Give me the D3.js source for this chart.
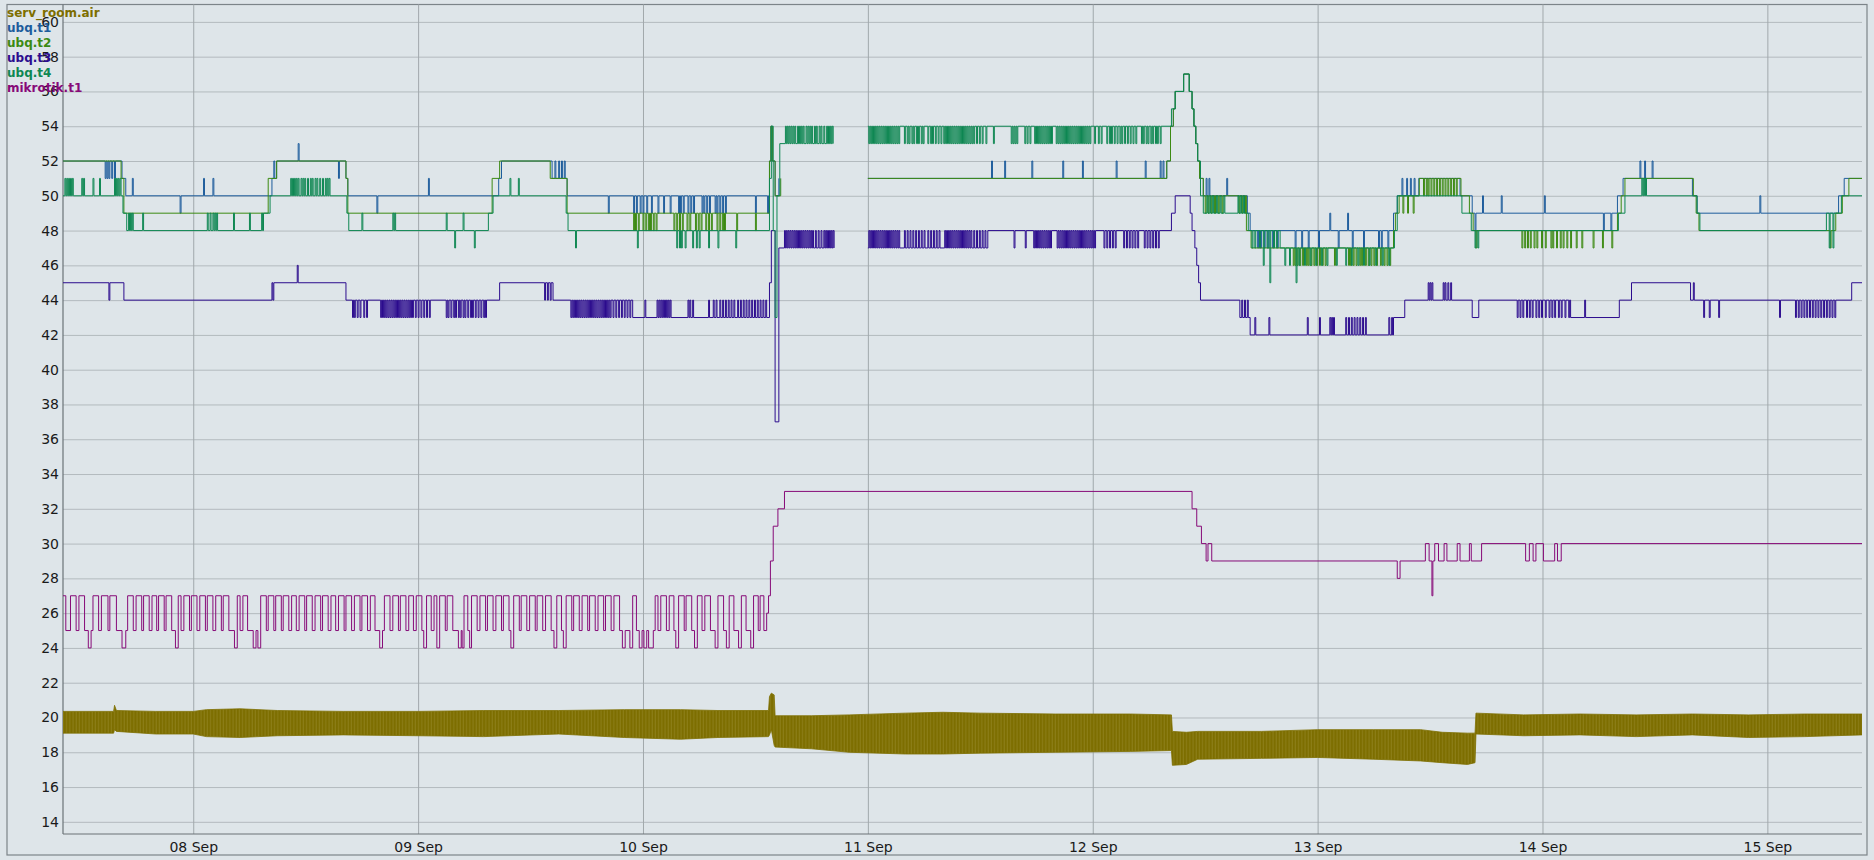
<!DOCTYPE html>
<html>
<head>
<meta charset="utf-8">
<script src="https://cdn.jsdelivr.net/npm/d3@7"></script>
<style>
  html, body { margin: 0; padding: 0; background: #dee5e9; }
  svg { display: block; }
</style>
</head>
<body>
<svg id="chart"></svg>
<script>
// all times are hours counted from 07 Sep 00:00
const START = new Date(2015, 8, 7);
const X_RANGE = [10.1, 202.1];
const Y_RANGE = [13.3, 61];

const yTicks = [14, 16, 18, 20, 22, 24, 26, 28, 30, 32, 34, 36, 38, 40, 42, 44, 46, 48, 50, 52, 54, 56, 58, 60];
const dayTicks = [24, 48, 72, 96, 120, 144, 168, 192];

const seriesNames = ["serv_room.air", "ubq.t1", "ubq.t2", "ubq.t3", "ubq.t4", "mikrotik.t1"];
const seriesColors = ["#7d6e00", "#1d5c9c", "#3c8a12", "#2c0c8e", "#0e8752", "#870a78"];

// serv_room.air oscillates fast: kept as its low / high envelope [h, low, high]
const servRoomAir = [
  [10.1, 19.1, 20.35], [15.5, 19.1, 20.35], [15.6, 19.3, 20.7], [15.8, 19.2, 20.4],
  [20, 19.05, 20.35], [24, 19.05, 20.35], [25.4, 18.9, 20.45], [29, 18.85, 20.5],
  [33, 18.95, 20.4], [40, 19.0, 20.35], [48, 18.95, 20.35], [55, 18.9, 20.4],
  [63, 19.05, 20.4], [70, 18.85, 20.45], [76, 18.75, 20.45], [80, 18.85, 20.4],
  [85.4, 18.9, 20.4], [85.5, 19.0, 21.2], [85.7, 19.3, 21.4], [86.0, 18.4, 21.3],
  [86.1, 18.3, 20.1], [90, 18.2, 20.1], [94, 18.0, 20.15], [100, 17.9, 20.25],
  [104, 17.9, 20.3], [108, 17.95, 20.25], [116, 18.0, 20.2], [124, 18.05, 20.2],
  [128.4, 18.1, 20.15], [128.5, 17.25, 19.2], [130, 17.3, 19.15], [131.2, 17.6, 19.2],
  [138, 17.65, 19.2], [144, 17.7, 19.3], [150, 17.6, 19.3], [155, 17.5, 19.3],
  [157.3, 17.4, 19.15], [160, 17.3, 19.1], [160.8, 17.4, 19.1], [160.9, 19.05, 20.25],
  [166, 18.95, 20.15], [172, 19.0, 20.2], [178, 18.9, 20.15], [184, 19.0, 20.2],
  [190, 18.85, 20.15], [196, 18.9, 20.2], [202.1, 19.0, 20.2]
];

// level changes [h, value]; null = no data
const ubqT1Steps = [
  [10.1, 52], [16.4, 51], [16.8, 50], [32.4, 51], [32.9, 52], [40.3, 51], [40.5, 50],
  [56.6, 51], [56.9, 52], [62.3, 51], [63.9, 50],
  [85.5, 52], [85.65, 54], [85.8, 52], [86.1, 50], [86.5, 51], [92.5, null], [96.0, 51],
  [127.9, 52], [128.3, 54], [128.6, 55], [128.8, 56], [129.7, 57], [130.3, 56], [130.6, 55],
  [130.8, 54], [131.0, 53], [131.2, 52], [131.4, 51], [131.8, 50],
  [136.5, 49], [136.8, 48], [152.1, 49], [152.5, 50], [154.8, 51], [159.2, 50], [160.5, 49],
  [176.0, 50], [176.6, 51], [184.0, 50], [184.5, 49], [199.6, 50], [200.2, 51]
];
// single-sample excursions [h, value]
const ubqT1Spikes = [
  [14.6, 51], [14.8, 51], [15.0, 51], [15.3, 51], [15.6, 51], [17.5, 51], [22.6, 49],
  [25.1, 51], [26.1, 51], [32.6, 52], [35.2, 53], [39.5, 51], [43.6, 49], [49.1, 51],
  [62.6, 52], [63.0, 52], [63.3, 52], [63.6, 52], [68.3, 49],
  [71.0, 49], [71.3, 49], [71.7, 49], [72.0, 49], [72.4, 49], [72.9, 49], [73.6, 49],
  [74.2, 49], [74.9, 49], [75.8, 49], [76.0, 49], [76.3, 49], [76.8, 49], [77.1, 49],
  [77.4, 49], [78.3, 49], [78.5, 49], [78.8, 49], [79.1, 49], [79.7, 49], [79.9, 49],
  [80.2, 49], [80.5, 49], [80.8, 49], [84.0, 49], [85.3, 49],
  [109.2, 52], [110.6, 52], [113.5, 52], [116.8, 52], [118.9, 52], [122.5, 52], [125.6, 52],
  [127.2, 52], [127.5, 52], [132.1, 51], [132.4, 51], [134.3, 51],
  [137.6, 47], [137.9, 47], [138.3, 47], [138.7, 47], [139.2, 47], [139.7, 47],
  [141.6, 47], [142.3, 47], [143.0, 47], [144.1, 47], [145.3, 49], [146.2, 47], [147.2, 49],
  [147.7, 47], [148.9, 47], [150.5, 47], [150.8, 47], [151.5, 47],
  [153.0, 51], [153.5, 51], [153.9, 51], [154.3, 51],
  [160.8, 48], [161.6, 50], [163.6, 50], [168.2, 50], [174.5, 48], [175.3, 48],
  [178.4, 52], [178.9, 52], [179.7, 52], [191.2, 50]
];

const ubqT2Steps = [
  [10.1, 52], [16.3, 51], [16.6, 49], [32.0, 51], [32.9, 52], [40.3, 51], [40.5, 49],
  [55.9, 51], [56.7, 52], [62.1, 51], [63.9, 49],
  [85.5, 52], [85.65, 54], [85.8, 52], [86.1, 50], [86.7, 51], [92.5, null], [96.0, 51],
  [127.9, 52], [128.3, 54], [128.6, 55], [128.8, 56], [129.7, 57], [130.3, 56], [130.6, 55],
  [130.8, 54], [131.0, 53], [131.2, 52], [131.4, 51], [131.8, 50],
  [136.4, 48], [136.9, 47], [152.1, 48], [152.3, 49], [152.7, 50], [154.85, 51],
  [159.3, 50], [160.2, 49], [160.6, 48], [176.0, 49], [176.4, 50], [176.8, 51],
  [184.1, 50], [184.4, 49], [184.7, 48], [199.3, 49], [200.0, 50], [200.7, 51]
];
const ubqT2Spikes = [
  [71.0, 48], [71.2, 48], [71.5, 48], [72.0, 48], [72.3, 48], [72.6, 48], [72.8, 48],
  [73.1, 48], [73.4, 48], [75.3, 48], [75.6, 48], [75.9, 48], [76.2, 48], [76.7, 48],
  [77.0, 48], [77.6, 48], [77.9, 48], [78.2, 48], [78.7, 48], [79.0, 48], [79.3, 48],
  [79.9, 48], [80.2, 48], [80.5, 48], [80.7, 48], [82.0, 48], [84.0, 48],
  [132.0, 49], [132.3, 49], [132.6, 49], [133.0, 49], [133.4, 49], [133.8, 49],
  [135.6, 49], [135.9, 49], [136.2, 49],
  [141.4, 46], [141.6, 46], [141.8, 46], [142.1, 46], [142.4, 46], [142.8, 46], [143.0, 46],
  [143.3, 46], [143.6, 46], [143.9, 46], [144.2, 46], [144.5, 46], [144.8, 46], [145.8, 46],
  [147.3, 46], [147.5, 46], [147.8, 46], [148.1, 46], [148.5, 46], [148.7, 46], [149.1, 46],
  [149.4, 46], [149.7, 46], [150.0, 46], [150.3, 46], [150.7, 46], [151.1, 46], [151.4, 46],
  [151.7, 46], [153.1, 49], [153.6, 49], [154.2, 49],
  [155.3, 50], [155.6, 50], [155.8, 50], [156.1, 50], [156.4, 50], [156.7, 50], [157.0, 50],
  [157.3, 50], [157.6, 50], [157.9, 50], [158.2, 50], [158.5, 50], [158.8, 50],
  [160.9, 47], [165.8, 47], [166.1, 47], [166.4, 47], [166.7, 47], [167.1, 47], [167.4, 47],
  [167.9, 47], [168.3, 47], [168.9, 47], [169.1, 47], [169.5, 47], [169.9, 47], [170.2, 47],
  [170.6, 47], [171.0, 47], [171.6, 47], [172.2, 47], [173.4, 47], [174.4, 47], [175.4, 47],
  [198.7, 47]
];

const ubqT3Steps = [
  [10.1, 45], [16.6, 44], [32.4, 45], [40.3, 44], [56.7, 45], [62.4, 44], [70.9, 43],
  [85.5, 45], [85.7, 48], [86.1, 37], [86.5, 47], [92.5, null], [96.0, 47], [108.8, 48],
  [128.4, 49], [128.8, 50], [130.4, 49], [130.6, 48], [130.9, 47], [131.1, 46], [131.3, 45],
  [131.5, 44], [135.7, 43], [136.8, 42], [152.1, 43], [153.3, 44], [160.5, 43], [161.2, 44],
  [171.0, 43], [176.2, 44], [177.5, 45], [183.8, 44], [201.0, 45]
];
const ubqT3Spikes = [
  [15.0, 44], [32.5, 44], [35.1, 46],
  [41.0, 43], [41.2, 43], [41.5, 43], [41.8, 43], [42.2, 43], [42.5, 43],
  [44.0, 43], [44.2, 43], [44.4, 43], [44.6, 43], [44.8, 43], [45.0, 43], [45.2, 43],
  [45.4, 43], [45.6, 43], [45.8, 43], [46.0, 43], [46.2, 43], [46.4, 43], [46.6, 43],
  [46.8, 43], [47.0, 43], [47.2, 43], [47.4, 43], [47.7, 43], [48.0, 43], [48.3, 43],
  [48.6, 43], [48.9, 43], [49.2, 43],
  [51.0, 43], [51.2, 43], [51.5, 43], [51.8, 43], [52.0, 43], [52.3, 43], [52.5, 43],
  [52.8, 43], [53.0, 43], [53.3, 43], [53.6, 43], [53.8, 43], [54.1, 43], [54.4, 43],
  [54.7, 43], [55.0, 43], [55.2, 43],
  [61.5, 44], [61.8, 44], [62.1, 44],
  [64.3, 43], [64.5, 43], [64.7, 43], [64.9, 43], [65.1, 43], [65.3, 43], [65.5, 43],
  [65.7, 43], [65.9, 43], [66.1, 43], [66.3, 43], [66.5, 43], [66.7, 43], [66.9, 43],
  [67.1, 43], [67.3, 43], [67.5, 43], [67.7, 43], [67.9, 43], [68.1, 43], [68.3, 43],
  [68.5, 43], [68.8, 43], [69.1, 43], [69.4, 43], [69.7, 43], [70.0, 43], [70.3, 43],
  [70.6, 43],
  [72.2, 44], [73.5, 44], [73.7, 44], [73.9, 44], [74.1, 44], [74.3, 44], [74.5, 44],
  [74.7, 44], [74.9, 44], [76.8, 44], [77.0, 44], [77.3, 44], [79.0, 44], [79.5, 44],
  [79.8, 44], [80.2, 44], [80.5, 44], [80.8, 44], [81.1, 44], [81.4, 44], [81.7, 44],
  [82.1, 44], [82.4, 44], [82.7, 44], [83.0, 44], [83.3, 44], [83.6, 44], [83.9, 44],
  [84.2, 44], [84.5, 44], [84.8, 44], [85.1, 44],
  [87.1, 48], [87.3, 48], [87.5, 48], [87.7, 48], [87.9, 48], [88.1, 48], [88.3, 48],
  [88.5, 48], [88.7, 48], [88.9, 48], [89.1, 48], [89.3, 48], [89.5, 48], [89.7, 48],
  [89.9, 48], [90.1, 48], [90.4, 48], [90.7, 48], [91.0, 48], [91.3, 48], [91.5, 48],
  [91.7, 48], [91.9, 48], [92.1, 48], [92.3, 48],
  [96.1, 48], [96.3, 48], [96.5, 48], [96.7, 48], [96.9, 48], [97.1, 48], [97.3, 48],
  [97.5, 48], [97.7, 48], [97.9, 48], [98.1, 48], [98.3, 48], [98.5, 48], [98.7, 48],
  [98.9, 48], [99.1, 48], [99.3, 48], [99.9, 48], [100.2, 48], [100.5, 48], [100.8, 48],
  [101.1, 48], [101.4, 48], [101.7, 48], [102.0, 48], [102.4, 48], [102.7, 48], [103.0, 48],
  [103.3, 48], [103.6, 48], [104.2, 48], [104.4, 48], [104.6, 48], [104.8, 48], [105.0, 48],
  [105.2, 48], [105.4, 48], [105.6, 48], [105.8, 48], [106.0, 48], [106.2, 48], [106.4, 48],
  [106.6, 48], [106.8, 48], [107.0, 48], [107.3, 48], [107.6, 48], [107.9, 48], [108.2, 48],
  [108.5, 48],
  [111.6, 47], [112.8, 47], [113.7, 47], [113.9, 47], [114.1, 47], [114.3, 47], [114.5, 47],
  [114.7, 47], [114.9, 47], [115.1, 47], [115.3, 47], [115.5, 47], [116.2, 47], [116.4, 47],
  [116.6, 47], [116.8, 47], [117.0, 47], [117.2, 47], [117.4, 47], [117.6, 47], [117.8, 47],
  [118.0, 47], [118.2, 47], [118.4, 47], [118.6, 47], [118.8, 47], [119.0, 47], [119.2, 47],
  [119.4, 47], [119.6, 47], [119.8, 47], [120.0, 47], [120.2, 47], [121.2, 47], [121.5, 47],
  [121.8, 47], [122.1, 47], [122.4, 47], [123.3, 47], [123.6, 47], [123.9, 47], [124.2, 47],
  [124.5, 47], [124.8, 47], [125.5, 47], [125.8, 47], [126.1, 47], [126.4, 47], [126.7, 47],
  [127.0, 47],
  [135.9, 44], [136.2, 44], [136.5, 44],
  [137.3, 43], [138.8, 43], [142.9, 43], [144.2, 43], [145.3, 43], [145.5, 43], [145.7, 43],
  [147.0, 43], [147.3, 43], [147.6, 43], [147.9, 43], [148.2, 43], [148.5, 43], [148.8, 43],
  [149.1, 43], [151.6, 43], [151.9, 43],
  [155.8, 45], [156.0, 45], [156.2, 45], [157.4, 45], [157.6, 45], [157.9, 45], [158.2, 45],
  [165.3, 43], [165.6, 43], [165.9, 43], [166.3, 43], [166.6, 43], [166.9, 43], [167.3, 43],
  [167.6, 43], [167.9, 43], [168.3, 43], [168.7, 43], [169.0, 43], [169.3, 43], [169.7, 43],
  [170.0, 43], [170.4, 43], [170.8, 43], [172.5, 44],
  [184.1, 45], [185.2, 43], [185.8, 43], [186.8, 43], [193.3, 43],
  [195.0, 43], [195.3, 43], [195.6, 43], [195.9, 43], [196.2, 43], [196.5, 43], [196.8, 43],
  [197.1, 43], [197.4, 43], [197.7, 43], [198.0, 43], [198.3, 43], [198.6, 43], [198.9, 43],
  [199.2, 43]
];

const ubqT4Steps = [
  [10.1, 50], [16.5, 49], [16.9, 48], [31.5, 49], [32.2, 50], [40.4, 49], [40.6, 48],
  [55.5, 49], [56.0, 50], [63.8, 49], [64.0, 48],
  [85.5, 51], [85.7, 54], [85.9, 48], [86.1, 43], [86.3, 50], [86.6, 53], [92.5, null], [96.0, 54],
  [128.4, 55], [128.8, 56], [129.7, 57], [130.3, 56], [130.6, 55], [130.8, 54], [131.0, 53],
  [131.2, 52], [131.5, 50], [131.8, 49], [136.6, 48], [140.0, 47], [152.2, 48], [152.5, 50],
  [159.4, 49], [160.4, 48], [176.1, 49], [176.8, 50], [184.5, 49], [184.8, 48],
  [198.3, 49], [199.9, 50]
];
const ubqT4Spikes = [
  [10.3, 51], [10.5, 51], [10.7, 51], [10.9, 51], [11.1, 51], [12.1, 51], [12.3, 51],
  [13.3, 51], [14.0, 51], [15.6, 51], [15.8, 51], [16.0, 51], [16.2, 51],
  [17.1, 49], [17.3, 49], [17.5, 49], [18.6, 49], [25.5, 49], [25.8, 49], [26.1, 49],
  [26.3, 49], [26.5, 49], [28.3, 49], [30.0, 49], [31.3, 49],
  [34.4, 51], [34.6, 51], [34.8, 51], [35.0, 51], [35.2, 51], [35.5, 51], [35.7, 51],
  [35.9, 51], [36.2, 51], [36.5, 51], [36.7, 51], [37.0, 51], [37.2, 51], [37.5, 51],
  [37.8, 51], [38.1, 51], [38.3, 51], [38.5, 51],
  [42.0, 49], [45.3, 49], [45.5, 49], [51.0, 49], [51.9, 47], [52.8, 49], [54.0, 47],
  [57.8, 51], [58.7, 51],
  [64.8, 47], [71.4, 47], [75.6, 47], [75.9, 47], [76.1, 47], [76.5, 47], [77.3, 47],
  [77.7, 47], [78.0, 47], [79.0, 47], [80.0, 47], [81.9, 47],
  [87.2, 54], [87.4, 54], [87.6, 54], [87.8, 54], [88.0, 54], [88.2, 54], [88.5, 54],
  [88.7, 54], [88.9, 54], [89.1, 54], [89.4, 54], [89.6, 54], [89.8, 54], [90.0, 54],
  [90.3, 54], [90.5, 54], [90.8, 54], [91.0, 54], [91.3, 54], [91.6, 54], [91.8, 54],
  [92.0, 54], [92.2, 54],
  [96.1, 53], [96.3, 53], [96.5, 53], [96.7, 53], [96.9, 53], [97.1, 53], [97.3, 53],
  [97.5, 53], [97.7, 53], [97.9, 53], [98.1, 53], [98.3, 53], [98.5, 53], [98.7, 53],
  [98.9, 53], [99.1, 53], [99.3, 53], [99.9, 53], [100.2, 53], [100.4, 53], [100.7, 53],
  [100.9, 53], [101.2, 53], [101.4, 53], [101.7, 53], [101.9, 53], [102.4, 53], [102.7, 53],
  [102.9, 53], [103.2, 53], [103.5, 53], [103.8, 53], [104.1, 53], [104.3, 53], [104.5, 53],
  [104.7, 53], [104.9, 53], [105.1, 53], [105.3, 53], [105.5, 53], [105.7, 53], [105.9, 53],
  [106.1, 53], [106.3, 53], [106.5, 53], [106.7, 53], [106.9, 53], [107.1, 53], [107.3, 53],
  [107.6, 53], [107.9, 53], [108.2, 53], [108.6, 53], [109.4, 53],
  [111.3, 53], [111.5, 53], [111.7, 53], [111.9, 53], [112.75, 53], [113.0, 53], [113.3, 53],
  [113.8, 53], [114.0, 53], [114.2, 53], [114.4, 53], [114.6, 53], [114.8, 53], [115.0, 53],
  [115.2, 53], [115.4, 53], [115.6, 53], [116.1, 53], [116.3, 53], [116.5, 53], [116.7, 53],
  [116.9, 53], [117.1, 53], [117.3, 53], [117.5, 53], [117.7, 53], [117.9, 53], [118.1, 53],
  [118.3, 53], [118.5, 53], [118.7, 53], [118.9, 53], [119.1, 53], [119.3, 53], [119.5, 53],
  [119.7, 53], [120.2, 53], [120.6, 53], [120.9, 53], [121.5, 53], [121.8, 53], [122.0, 53],
  [122.3, 53], [122.6, 53], [122.9, 53], [123.1, 53], [123.4, 53], [123.7, 53], [124.0, 53],
  [124.3, 53], [124.6, 53], [125.2, 53], [125.4, 53], [125.7, 53], [125.9, 53], [126.2, 53],
  [126.4, 53], [126.7, 53], [126.9, 53], [127.2, 53],
  [132.2, 50], [132.5, 50], [132.8, 50], [133.2, 50], [133.6, 50], [134.0, 50], [135.5, 50],
  [135.8, 50], [136.1, 50],
  [137.0, 47], [137.3, 47], [137.8, 47], [138.2, 46], [138.6, 47], [138.9, 45], [139.3, 47],
  [139.6, 47],
  [140.5, 46], [141.0, 46], [141.7, 45], [142.0, 46], [142.6, 46], [143.2, 46], [143.8, 46],
  [144.4, 46], [145.0, 46], [146.0, 46], [147.0, 46], [147.6, 46], [148.3, 46], [148.9, 46],
  [149.5, 46], [150.2, 46], [150.9, 46], [151.6, 46],
  [160.8, 47], [161.1, 47], [178.6, 51], [178.8, 51], [179.0, 51], [198.6, 47], [199.0, 47]
];

const mikrotikT1Steps = [
  [10.1, 27], [10.4, 25], [10.9, 27], [11.5, 25], [11.8, 27], [12.4, 25], [12.8, 24],
  [13.1, 25], [13.3, 27], [13.9, 25], [14.2, 27], [14.9, 25], [15.1, 27], [15.8, 25],
  [16.4, 24], [16.8, 25], [17.0, 27], [17.6, 25], [17.9, 27], [18.5, 25], [18.7, 27],
  [19.3, 25], [19.6, 27], [20.1, 25], [20.3, 27], [20.9, 25], [21.1, 27], [21.7, 25],
  [22.1, 24], [22.4, 27], [22.7, 25], [23.0, 27], [23.6, 25], [23.8, 27], [24.4, 25],
  [24.7, 27], [25.3, 25], [25.5, 27], [26.1, 25], [26.4, 27], [27.0, 25], [27.2, 27],
  [27.8, 25], [28.4, 24], [28.7, 27], [29.0, 25], [29.3, 27], [29.8, 25], [30.4, 24],
  [30.7, 25], [30.9, 24], [31.2, 27], [31.8, 25], [32.0, 27], [32.6, 25], [32.8, 27],
  [33.4, 25], [33.6, 27], [34.2, 25], [34.5, 27], [35.0, 25], [35.3, 27], [35.9, 25],
  [36.1, 27], [36.7, 25], [37.0, 27], [37.6, 25], [37.8, 27], [38.4, 25], [38.7, 27],
  [39.2, 25], [39.5, 27], [40.1, 25], [40.3, 27], [40.9, 25], [41.2, 27], [41.8, 25],
  [42.0, 27], [42.6, 25], [42.9, 27], [43.4, 25], [43.9, 24], [44.2, 25], [44.4, 27],
  [45.0, 25], [45.3, 27], [45.9, 25], [46.1, 27], [46.7, 25], [47.0, 27], [47.5, 25],
  [47.8, 27], [48.4, 25], [48.6, 24], [48.9, 27], [49.4, 25], [49.7, 27], [50.0, 24],
  [50.3, 27], [50.9, 25], [51.1, 27], [51.7, 25], [52.3, 24], [52.6, 25], [52.7, 24],
  [52.9, 27], [53.3, 25], [53.5, 24], [53.7, 27], [54.3, 25], [54.6, 27], [55.2, 25],
  [55.4, 27], [56.0, 25], [56.3, 27], [56.9, 25], [57.1, 27], [57.7, 25], [57.9, 24],
  [58.2, 27], [58.8, 25], [59.0, 27], [59.6, 25], [59.9, 27], [60.5, 25], [60.7, 27],
  [61.3, 25], [61.6, 27], [62.2, 25], [62.5, 24], [62.8, 27], [63.3, 25], [63.5, 24],
  [63.8, 27], [64.4, 25], [64.6, 27], [65.2, 25], [65.5, 27], [66.1, 25], [66.3, 27],
  [66.9, 25], [67.2, 27], [67.8, 25], [68.0, 27], [68.6, 25], [68.9, 27], [69.5, 25],
  [69.8, 24], [70.1, 25], [70.6, 24], [70.9, 27], [71.3, 25], [71.6, 24], [71.9, 25],
  [72.1, 24], [72.4, 25], [72.6, 24], [73.1, 25], [73.3, 27], [73.6, 25], [73.9, 27],
  [74.5, 25], [74.8, 27], [75.3, 25], [75.5, 24], [75.8, 27], [76.4, 25], [76.6, 27],
  [77.2, 25], [77.5, 24], [77.8, 27], [78.3, 25], [78.6, 27], [79.2, 25], [79.7, 24],
  [80.0, 27], [80.6, 25], [80.9, 24], [81.2, 27], [81.7, 25], [82.2, 24], [82.5, 27],
  [83.0, 25], [83.5, 24], [83.8, 27], [84.3, 25], [84.5, 27], [84.9, 25], [85.2, 26],
  [85.4, 27], [85.6, 29], [85.9, 31], [86.4, 32], [87.1, 33],
  [130.6, 32], [131.1, 31], [131.6, 30], [132.1, 29], [132.3, 30], [132.7, 29],
  [152.5, 28], [152.8, 29], [155.5, 30], [155.9, 29], [156.2, 27], [156.3, 29], [156.5, 30],
  [156.9, 29], [157.5, 30], [157.8, 29], [158.9, 30], [159.2, 29], [160.2, 30], [160.4, 29],
  [161.5, 30], [166.2, 29], [166.6, 30], [167.0, 29], [167.3, 30], [168.1, 29], [169.3, 30],
  [169.6, 29], [170.0, 30]
];

const SAMPLE = 0.1; // one sample interval, hours

function baseAt(steps, h) {
  let v = null;
  for (const [t, val] of steps) {
    if (t <= h) v = val;
    else break;
  }
  return v;
}

function buildSeries(steps, spikes) {
  const pts = steps.map(([t, v]) => ({ t, v }));
  spikes.forEach(([t, v]) => {
    const base = baseAt(steps, t);
    if (base === null) return;
    pts.push({ t, v }, { t: t + SAMPLE, v: base });
  });
  pts.sort((a, b) => a.t - b.t);
  pts.push({ t: X_RANGE[1], v: pts[pts.length - 1].v });
  return pts;
}

const lineSeries = [
  { name: "ubq.t1", color: seriesColors[1], data: buildSeries(ubqT1Steps, ubqT1Spikes) },
  { name: "ubq.t2", color: seriesColors[2], data: buildSeries(ubqT2Steps, ubqT2Spikes) },
  { name: "ubq.t3", color: seriesColors[3], data: buildSeries(ubqT3Steps, ubqT3Spikes) },
  { name: "ubq.t4", color: seriesColors[4], data: buildSeries(ubqT4Steps, ubqT4Spikes) },
  { name: "mikrotik.t1", color: seriesColors[5], data: buildSeries(mikrotikT1Steps, []) }
];

// ===============================
// LAYOUT
// ===============================
const width = 1874, height = 860;
const plot = { left: 63, right: 1862, top: 4.5, bottom: 834 };

const toDate = h => new Date(START.getTime() + h * 3600e3);

const svg = d3.select("#chart")
  .attr("width", width)
  .attr("height", height)
  .style("font-family", "'DejaVu Sans', Verdana, sans-serif");

// fine vertical striation for the fast-oscillating band
const pattern = svg.append("defs").append("pattern")
  .attr("id", "airStripes")
  .attr("patternUnits", "userSpaceOnUse")
  .attr("width", 3.2).attr("height", 20);
pattern.append("rect")
  .attr("width", 3.2).attr("height", 20)
  .attr("fill", seriesColors[0]);
pattern.append("rect")
  .attr("x", 2.2).attr("width", 0.7).attr("height", 20)
  .attr("fill", "#958726");

svg.append("rect")
  .attr("x", 7).attr("y", 4.5)
  .attr("width", 1860).attr("height", 850.5)
  .attr("fill", "#dee5e9")
  .attr("stroke", "#7c8489")
  .attr("stroke-width", 1.2);

const x = d3.scaleTime()
  .domain(X_RANGE.map(toDate))
  .range([plot.left, plot.right]);

const y = d3.scaleLinear()
  .domain(Y_RANGE)
  .range([plot.bottom, plot.top]);

// --- GRID + AXES ---
const yAxis = svg.append("g")
  .attr("transform", `translate(${plot.left},0)`)
  .call(d3.axisLeft(y)
    .tickValues(yTicks)
    .tickSize(-(plot.right - plot.left))
    .tickPadding(4)
    .tickFormat(d3.format("d")));
yAxis.select(".domain").remove();
yAxis.selectAll(".tick line").attr("stroke", "#b3babe").attr("stroke-width", 1);
yAxis.selectAll(".tick text")
  .attr("fill", "#1a1a1a")
  .style("font-size", "14px")
  .style("font-family", "'DejaVu Sans', sans-serif");

const xAxis = svg.append("g")
  .attr("transform", `translate(0,${plot.bottom})`)
  .call(d3.axisBottom(x)
    .tickValues(dayTicks.map(toDate))
    .tickSize(-(plot.bottom - plot.top))
    .tickPadding(8)
    .tickFormat(d3.timeFormat("%d %b")));
xAxis.select(".domain").remove();
xAxis.selectAll(".tick line").attr("stroke", "#a1a8ac").attr("stroke-width", 1);
xAxis.selectAll(".tick text")
  .attr("fill", "#1a1a1a")
  .style("font-size", "14px")
  .style("font-family", "'DejaVu Sans', sans-serif");

// axis lines
svg.append("line")
  .attr("x1", plot.left).attr("x2", plot.left)
  .attr("y1", plot.top).attr("y2", plot.bottom)
  .attr("stroke", "#6a7277").attr("stroke-width", 1.2);
svg.append("line")
  .attr("x1", plot.left).attr("x2", plot.right)
  .attr("y1", plot.bottom).attr("y2", plot.bottom)
  .attr("stroke", "#6a7277").attr("stroke-width", 1.2);

svg.append("clipPath").attr("id", "plotClip")
  .append("rect")
  .attr("x", plot.left).attr("y", plot.top)
  .attr("width", plot.right - plot.left).attr("height", plot.bottom - plot.top);

const marks = svg.append("g").attr("clip-path", "url(#plotClip)");

// ===============================
// SERV_ROOM.AIR BAND
// ===============================
const band = d3.area()
  .x(d => x(toDate(d[0])))
  .y0(d => y(d[1]))
  .y1(d => y(d[2]));

marks.append("path")
  .datum(servRoomAir)
  .attr("fill", "url(#airStripes)")
  .attr("stroke", seriesColors[0])
  .attr("stroke-width", 0.8)
  .attr("d", band);

// ===============================
// STEP LINES
// ===============================
const line = d3.line()
  .defined(d => d.v !== null)
  .curve(d3.curveStepAfter)
  .x(d => x(toDate(d.t)))
  .y(d => y(d.v));

lineSeries.forEach(s => {
  marks.append("path")
    .datum(s.data)
    .attr("fill", "none")
    .attr("stroke", s.color)
    .attr("stroke-width", 1)
    .attr("d", line);
});

// ===============================
// LEGEND
// ===============================
const legend = svg.append("g");
seriesNames.forEach((name, i) => {
  legend.append("text")
    .attr("x", 7)
    .attr("y", 16.7 + i * 15)
    .attr("fill", seriesColors[i])
    .style("font-size", "12px")
    .style("font-weight", "700")
    .style("font-family", "'DejaVu Sans', sans-serif")
    .text(name);
});
</script>
</body>
</html>
